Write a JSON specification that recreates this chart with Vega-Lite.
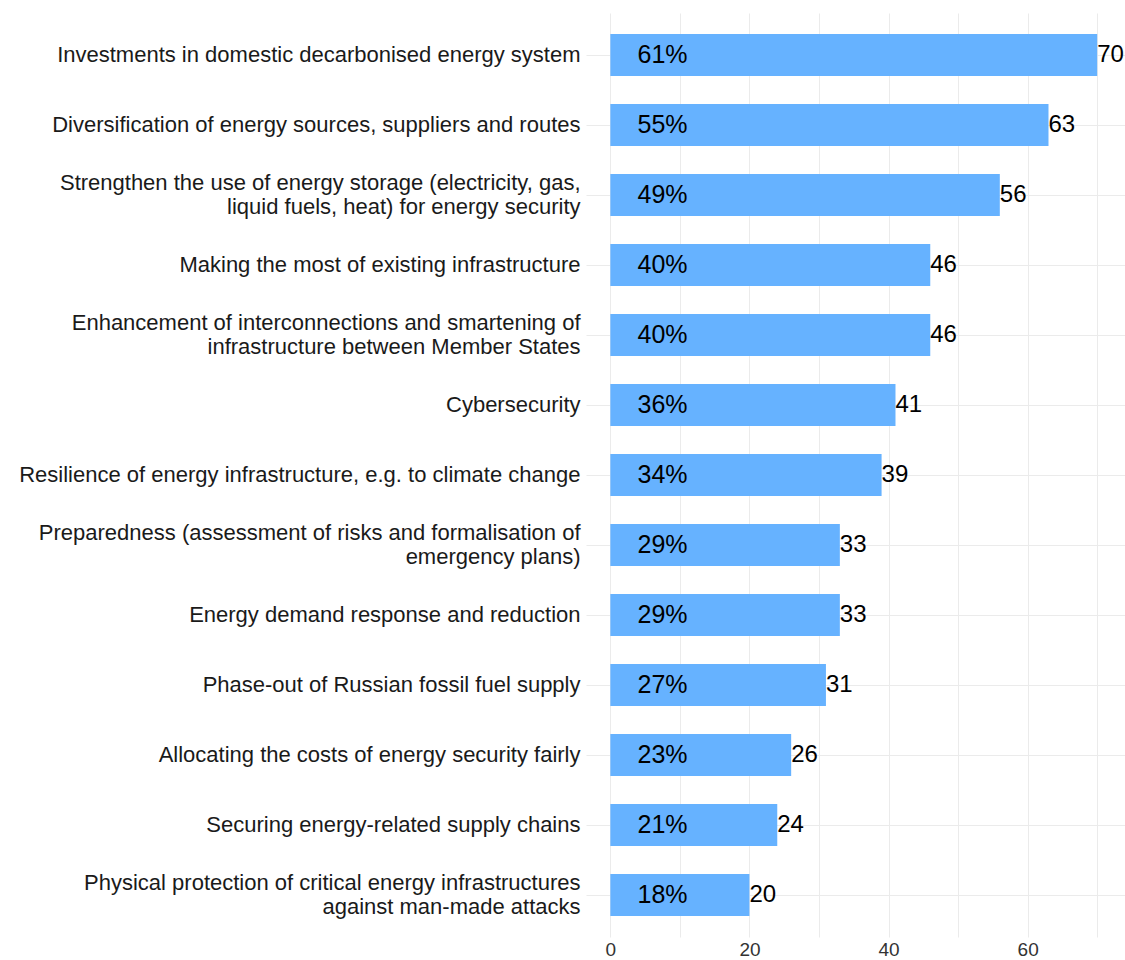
{
  "$schema": "https://vega.github.io/schema/vega-lite/v6.json",
  "autosize": "none",
  "padding": {"left": 586, "top": 13, "right": 0, "bottom": 23},
  "width": 539,
  "height": 924,
  "background": "white",
  "data": {
    "values": [
      {"item": "Investments in domestic decarbonised energy system", "count": 70, "pct": "61%"},
      {"item": "Diversification of energy sources, suppliers and routes", "count": 63, "pct": "55%"},
      {"item": "Strengthen the use of energy storage (electricity, gas,|liquid fuels, heat) for energy security", "count": 56, "pct": "49%"},
      {"item": "Making the most of existing infrastructure", "count": 46, "pct": "40%"},
      {"item": "Enhancement of interconnections and smartening of|infrastructure between Member States", "count": 46, "pct": "40%"},
      {"item": "Cybersecurity", "count": 41, "pct": "36%"},
      {"item": "Resilience of energy infrastructure, e.g. to climate change", "count": 39, "pct": "34%"},
      {"item": "Preparedness (assessment of risks and formalisation of|emergency plans)", "count": 33, "pct": "29%"},
      {"item": "Energy demand response and reduction", "count": 33, "pct": "29%"},
      {"item": "Phase-out of Russian fossil fuel supply", "count": 31, "pct": "27%"},
      {"item": "Allocating the costs of energy security fairly", "count": 26, "pct": "23%"},
      {"item": "Securing energy-related supply chains", "count": 24, "pct": "21%"},
      {"item": "Physical protection of critical energy infrastructures|against man-made attacks", "count": 20, "pct": "18%"}
    ]
  },
  "config": {
    "view": {"stroke": null},
    "font": "Liberation Sans",
    "axis": {"domain": false, "ticks": false, "gridColor": "#ebebeb", "gridWidth": 1, "labelFont": "Liberation Sans", "title": null}
  },
  "encoding": {
    "y": {
      "field": "item", "type": "nominal", "sort": null,
      "scale": {"paddingInner": 0.4, "paddingOuter": 0.3},
      "axis": {
        "labelExpr": "split(datum.label, '|')",
        "labelFontSize": 22,
        "labelColor": "#1a1a1a",
        "labelPadding": 6,
        "labelLineHeight": 24,
        "labelLimit": 700,
        "grid": true,
        "labelBaseline": "middle",
        "labelOffset": {"condition": {"test": "indexof(datum.label, '|') >= 0", "value": -12}, "value": 0}
      }
    }
  },
  "layer": [
    {
      "mark": {"type": "bar", "color": "#66B2FF"},
      "encoding": {
        "x": {
          "field": "count", "type": "quantitative",
          "scale": {"domain": [-3.5, 74], "nice": false, "zero": false},
          "axis": {"values": [0, 10, 20, 30, 40, 50, 60, 70], "labelExpr": "datum.value % 20 == 0 ? datum.label : ''", "labelFontSize": 19, "labelColor": "#333333", "labelPadding": 3, "grid": true}
        }
      }
    },
    {
      "mark": {"type": "text", "align": "left", "baseline": "middle", "fontSize": 24, "color": "#000000"},
      "encoding": {
        "x": {"field": "count", "type": "quantitative"},
        "text": {"field": "count"}
      }
    },
    {
      "mark": {"type": "text", "align": "center", "baseline": "middle", "fontSize": 25, "color": "#000000"},
      "encoding": {
        "x": {"datum": 7.5, "type": "quantitative"},
        "text": {"field": "pct"}
      }
    }
  ]
}
